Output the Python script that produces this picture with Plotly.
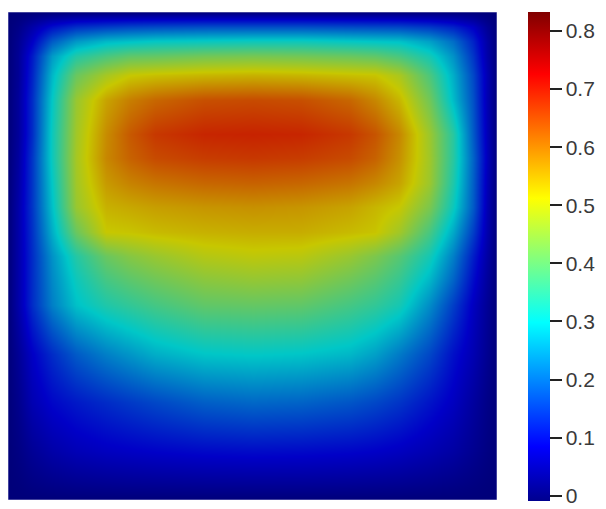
import plotly.graph_objects as go

# grid positions (normalised domain, y=0 bottom)
x_pos = [0, 0.02, 0.05, 0.09, 0.14, 0.2, 0.25, 0.3, 0.4, 0.5, 0.6, 0.7, 0.75, 0.8, 0.86, 0.91, 0.95, 0.98, 1]
y_pos = [0, 0.03, 0.1, 0.2, 0.3, 0.4, 0.45, 0.5, 0.55, 0.6, 0.65, 0.7, 0.75, 0.82, 0.87, 0.91, 0.94, 0.97, 0.99, 1]

# field values, one row per y_pos (left to right along x_pos)
row_y000 = [0] * 19
row_y003 = [0, .003, .01, .016, .021, .024, .026, .027, .029, .03, .03, .028, .026, .024, .019, .014, .008, .003, 0]
row_y010 = [0, .01, .03, .05, .065, .075, .08, .085, .092, .095, .093, .088, .083, .075, .06, .045, .025, .01, 0]
row_y020 = [0, .02, .06, .09, .11, .13, .145, .16, .185, .195, .19, .175, .16, .14, .105, .075, .04, .015, 0]
row_y030 = [0, .03, .08, .13, .18, .22, .245, .27, .295, .30, .295, .28, .255, .215, .16, .10, .06, .025, 0]
row_y040 = [0, .05, .13, .22, .29, .33, .35, .37, .40, .405, .40, .37, .35, .32, .235, .15, .075, .03, 0]
row_y045 = [0, .05, .13, .23, .31, .37, .395, .415, .445, .455, .45, .415, .39, .355, .28, .19, .095, .037, 0]
row_y050 = [0, .05, .13, .24, .335, .41, .44, .46, .49, .50, .495, .46, .43, .39, .32, .22, .115, .045, 0]
row_y055 = [0, .05, .135, .27, .41, .51, .515, .525, .535, .54, .54, .525, .515, .47, .375, .265, .15, .055, 0]
row_y060 = [0, .05, .14, .29, .46, .535, .545, .555, .565, .57, .565, .55, .53, .51, .43, .31, .18, .06, 0]
row_y065 = [0, .045, .14, .30, .47, .56, .585, .60, .615, .62, .615, .60, .58, .55, .465, .33, .185, .065, 0]
row_y070 = [0, .04, .14, .31, .475, .58, .62, .645, .66, .665, .66, .645, .62, .57, .47, .34, .19, .07, 0]
row_y075 = [0, .035, .13, .31, .47, .575, .63, .665, .685, .688, .685, .665, .635, .58, .465, .34, .18, .065, 0]
row_y082 = [0, .035, .13, .30, .46, .55, .59, .615, .64, .645, .64, .615, .58, .53, .42, .285, .17, .06, 0]
row_y087 = [0, .03, .12, .28, .41, .475, .51, .52, .53, .535, .53, .52, .515, .48, .38, .27, .16, .06, 0]
row_y091 = [0, .03, .11, .25, .335, .375, .40, .405, .42, .425, .42, .41, .40, .375, .32, .24, .14, .05, 0]
row_y094 = [0, .025, .08, .18, .245, .28, .29, .30, .305, .31, .31, .30, .295, .29, .255, .2, .12, .045, 0]
row_y097 = [0, .015, .05, .10, .135, .15, .16, .165, .17, .17, .17, .165, .163, .16, .145, .12, .08, .03, 0]
row_y099 = [0, .005, .017, .034, .046, .051, .054, .056, .058, .058, .058, .056, .055, .054, .049, .041, .027, .01, 0]
row_y100 = [0] * 19

field = [row_y000, row_y003, row_y010, row_y020, row_y030, row_y040, row_y045, row_y050,
         row_y055, row_y060, row_y065, row_y070, row_y075, row_y082, row_y087, row_y091,
         row_y094, row_y097, row_y099, row_y100]

cmin, cmax = -0.01, 0.832
tick_vals = [0, 0.1, 0.2, 0.3, 0.4, 0.5, 0.6, 0.7, 0.8]
tick_text = ["0", "0.1", "0.2", "0.3", "0.4", "0.5", "0.6", "0.7", "0.8"]

jet_stops = [(0.0, (0, 0, 143)), (0.111, (0, 0, 255)), (0.365, (0, 255, 255)),
             (0.492, (128, 255, 128)), (0.619, (255, 255, 0)), (0.873, (255, 0, 0)),
             (1.0, (128, 0, 0))]
shade = 0.78


def scale(f):
    return [[p, "rgb(%d,%d,%d)" % tuple(round(c * f) for c in rgb)] for p, rgb in jet_stops]


W, H = 606, 509

cbar = dict(xref="container", yref="container",
            x=528 / W, xanchor="left",
            y=1 - 13 / H, yanchor="top",
            lenmode="pixels", len=489,
            thickness=22, thicknessmode="pixels",
            outlinewidth=0, xpad=0, ypad=0,
            tickvals=tick_vals, ticktext=tick_text,
            ticks="outside", ticklen=12, tickwidth=2,
            tickcolor="#222222",
            ticklabeloverflow="allow",
            tickfont=dict(family="Liberation Sans", size=21, color="#3a3a3a"))

fig = go.Figure()
fig.add_trace(go.Heatmap(x=x_pos, y=y_pos, z=field, zsmooth="best", zmin=cmin, zmax=cmax,
                         colorscale=scale(shade), showscale=False, hoverinfo="skip"))
fig.add_trace(go.Scatter(x=[None], y=[None], mode="markers", showlegend=False,
                         marker=dict(color=[0], cmin=cmin, cmax=cmax, colorscale=scale(1.0),
                                     showscale=True, colorbar=cbar)))

fig.add_shape(type="rect", xref="x", yref="y", x0=0, x1=1, y0=0, y1=1,
              line=dict(color="rgba(190,190,225,0.7)", width=1), layer="above")
fig.update_xaxes(range=[0, 1], visible=False, showgrid=False, zeroline=False)
fig.update_yaxes(range=[0, 1], visible=False, showgrid=False, zeroline=False)
fig.update_layout(width=W, height=H, margin=dict(l=8, r=W - 497, t=12, b=H - 500),
                  paper_bgcolor="white", plot_bgcolor="white")
fig.write_html("out.html", config={"displayModeBar": False},
               post_script="document.body.style.margin='0';")
